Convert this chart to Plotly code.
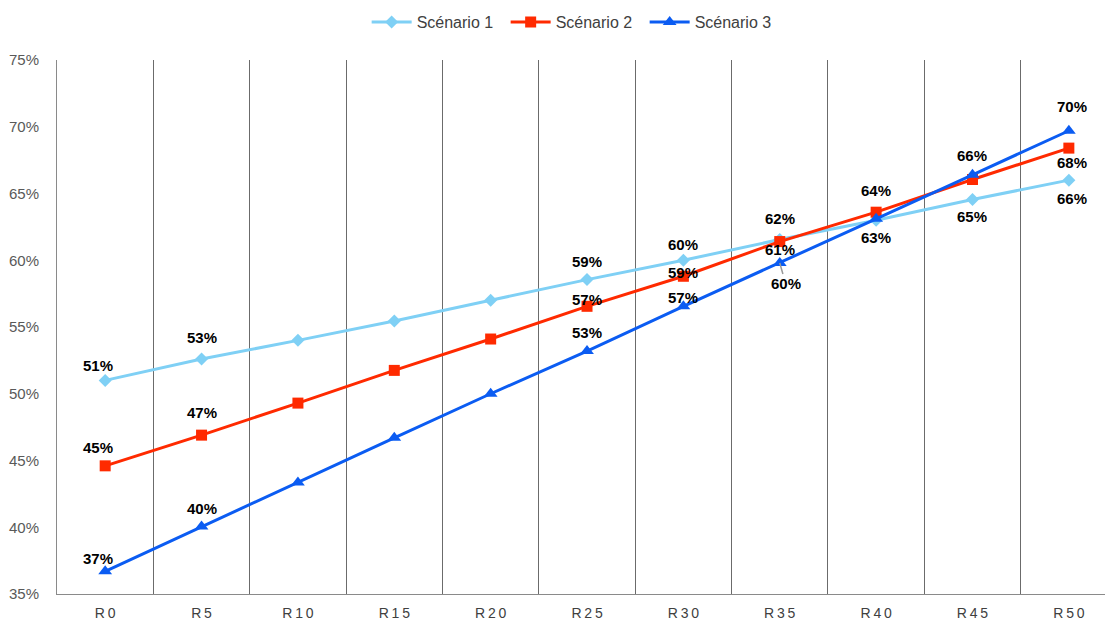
import plotly.graph_objects as go

categories = ["R0", "R5", "R10", "R15", "R20", "R25", "R30", "R35", "R40", "R45", "R50"]
scenario1 = [51.0, 52.6, 54.0, 55.45, 57.0, 58.55, 60.0, 61.55, 63.0, 64.55, 66.0]
scenario2 = [44.6, 46.9, 49.3, 51.75, 54.1, 56.55, 58.8, 61.4, 63.6, 66.05, 68.4]
scenario3 = [36.7, 40.05, 43.35, 46.7, 50.0, 53.2, 56.55, 59.8, 63.1, 66.4, 69.7]
series_names = ["Scénario 1", "Scénario 2", "Scénario 3"]
y_ticks = [35, 40, 45, 50, 55, 60, 65, 70, 75]
y_tick_labels = [f"{v}%" for v in y_ticks]
x_tick_labels = ["\u2009".join(c) for c in categories]

# which points carry a data label, with pixel offsets for placement (style)
label_idx = {
    0: [0, 1, 5, 6, 7, 8, 9, 10],
    1: [0, 1, 5, 6, 7, 8, 10],
    2: [0, 1, 5, 6, 7, 9, 10],
}
label_dy = {
    0: [15, 22, 18, 16, 21, -17, -17, -18],
    1: [18, 23, 7, 4, -8, 22, -14],
    2: [13, 18, 19, 9, None, 19, 24],
}

colors = ["#7FD0F5", "#FF2A00", "#0B5CF2"]
symbols = ["diamond", "square", "triangle-up"]
msizes = [10, 11, 12]
values = [scenario1, scenario2, scenario3]

fig = go.Figure()
for i in range(3):
    fig.add_trace(go.Scatter(
        x=categories, y=values[i], name=series_names[i], mode="lines+markers",
        line=dict(color=colors[i], width=3),
        marker=dict(symbol=symbols[i], size=msizes[i], color=colors[i]),
        cliponaxis=False,
    ))

annotations = []
lab_font = dict(family="Liberation Sans", size=15, color="#000000", weight="bold")
for s in range(3):
    for k, idx in enumerate(label_idx[s]):
        v = values[s][idx]
        txt = f"{int(v + 0.5)}%"
        dy = label_dy[s][k]
        xs = -7 if idx == 0 else (3 if idx == 10 else 0)
        if dy is None:
            annotations.append(dict(
                x=categories[idx], y=v, xref="x", yref="y", text=txt,
                showarrow=True, ax=6, ay=21, arrowhead=0, arrowwidth=1.5,
                arrowcolor="#9a9a9a", font=lab_font,
            ))
        else:
            annotations.append(dict(
                x=categories[idx], y=v, xref="x", yref="y", text=txt,
                showarrow=False, yshift=dy, xshift=xs, font=lab_font,
            ))

fig.update_layout(
    width=1105, height=621,
    margin=dict(l=57, r=0, t=60, b=23),
    paper_bgcolor="white", plot_bgcolor="white",
    font=dict(family="Liberation Sans", color="#595959"),
    showlegend=True,
    legend=dict(
        orientation="h", xref="container", yref="container",
        x=0.5205, xanchor="center", y=1 - 22 / 621, yanchor="middle",
        font=dict(size=16, color="#404040"), itemwidth=40,
        entrywidth=84, entrywidthmode="pixels",
        traceorder="normal",
    ),
    annotations=annotations,
)
fig.update_xaxes(
    type="category", range=[-0.5, 10.375],
    tickmode="array", tickvals=categories, ticktext=x_tick_labels,
    tickson="boundaries", showgrid=True, gridcolor="#6b6b6b", gridwidth=1,
    showline=True, linecolor="#8a8a8a", linewidth=1,
    ticks="", tickfont=dict(size=14, color="#404040", family="Liberation Sans"),
    ticklabelstandoff=6,
)
fig.update_yaxes(
    range=[35, 75], tickmode="array", tickvals=y_ticks, ticktext=y_tick_labels,
    showgrid=False, zeroline=False,
    showline=True, linecolor="#8a8a8a", linewidth=1,
    ticks="", tickfont=dict(size=15, color="#595959"),
    ticklabelstandoff=14,
)

fig.write_html("out.html")
